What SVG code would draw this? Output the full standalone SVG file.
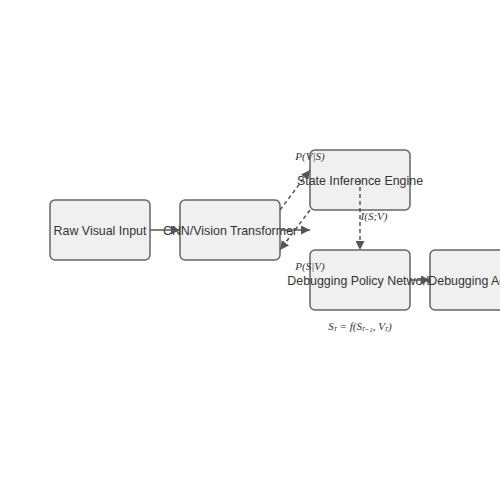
<svg xmlns="http://www.w3.org/2000/svg" width="500" height="500" viewBox="0 0 500 500">
<style>
.node rect{fill:#f0f0f0;stroke:#666;stroke-width:1.5}
.node text{font-family:"Liberation Sans",Arial,sans-serif;font-size:12.4px;fill:#333;text-anchor:middle;dominant-baseline:central}
.edge{stroke:#555;stroke-width:1.5;fill:none;marker-end:url(#arr)}
.dash{stroke-dasharray:4,3}
.lbl{font-family:"Liberation Serif","Times New Roman",serif;font-style:italic;font-size:11px;fill:#333;text-anchor:middle}
</style>
<defs>
<marker id="arr" viewBox="0 0 10 10" refX="10" refY="5" markerWidth="6" markerHeight="6" orient="auto" markerUnits="strokeWidth">
<path d="M0,0 L10,5 L0,10 z" fill="#555"/>
</marker>
</defs>
<rect width="500" height="500" fill="#fff"/>
<g id="raw" class="node"><rect x="50" y="200" width="100" height="60" rx="5"/><text x="100" y="231">Raw Visual Input</text></g>
<g id="cnn" class="node"><rect x="180" y="200" width="100" height="60" rx="5"/><text x="230" y="231">CNN/Vision Transformer</text></g>
<g id="state" class="node"><rect x="310" y="150" width="100" height="60" rx="5"/><text x="360" y="181">State Inference Engine</text></g>
<g id="policy" class="node"><rect x="310" y="250" width="100" height="60" rx="5"/><text x="360" y="281">Debugging Policy Network</text></g>
<g id="action" class="node"><rect x="430" y="250" width="100" height="60" rx="5"/><text x="480" y="281">Debugging Actions</text></g>
<g id="connectors">
<line class="edge" x1="150" y1="230" x2="180" y2="230"/>
<line class="edge" x1="280" y1="230" x2="310" y2="230"/>
<line class="edge dash" x1="280" y1="210" x2="310" y2="170"/>
<line class="edge dash" x1="310" y1="210" x2="280" y2="250"/>
<line class="edge dash" x1="360" y1="180" x2="360" y2="250"/>
<line class="edge" x1="410" y1="280" x2="430" y2="280"/>
<text class="lbl" x="310" y="160">P(V|S)</text>
<text class="lbl" x="310" y="270">P(S|V)</text>
<text class="lbl" x="374" y="220">I(S;V)</text>
<text class="lbl" x="360" y="330">Sₜ = f(Sₜ₋₁, Vₜ)</text>
</g>
</svg>
